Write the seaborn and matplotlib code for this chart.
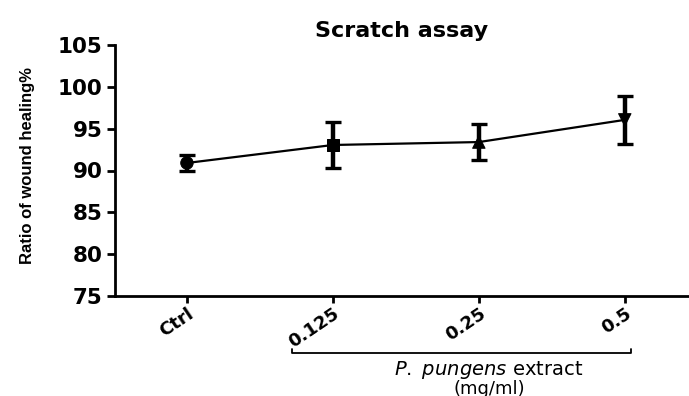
import matplotlib
matplotlib.use("Agg")
import matplotlib.pyplot as plt
import seaborn as sns
import pandas as pd
import numpy as np

categories = ["Ctrl", "0.125", "0.25", "0.5"]
means = [90.9, 93.05, 93.4, 96.05]
errors = [0.9, 2.8, 2.2, 2.9]
yticks = [75, 80, 85, 90, 95, 100, 105]
markers = ["o", "s", "^", "v"]

sns.set_style("ticks")
plt.rcParams['font.family'] = ['DejaVu Sans']
plt.rcParams['text.color'] = 'black'
plt.rcParams['axes.labelcolor'] = 'black'
plt.rcParams['xtick.color'] = 'black'
plt.rcParams['ytick.color'] = 'black'
plt.rcParams['axes.edgecolor'] = 'black'
plt.rcParams['mathtext.fontset'] = 'custom'
plt.rcParams['mathtext.it'] = 'DejaVu Sans:italic'
plt.rcParams['mathtext.rm'] = 'DejaVu Sans'

df = pd.DataFrame({"pos": np.arange(len(categories)), "mean": means, "err": errors, "cat": categories})

fig = plt.figure(figsize=(6.89, 3.96), dpi=100)
ax = fig.add_axes([115/689, 1-296/396, 1-115/689, (296-45)/396])

sns.lineplot(data=df, x="pos", y="mean", color="black", linewidth=1.6, ax=ax, legend=False)
ax.errorbar(df["pos"], df["mean"], yerr=df["err"], fmt="none", ecolor="black",
            elinewidth=3.2, capsize=6, capthick=2.4, zorder=3)
sns.scatterplot(data=df, x="pos", y="mean", style="cat", markers=dict(zip(categories, markers)),
                color="black", s=80, edgecolor="black", ax=ax, legend=False, zorder=4)

ax.set_ylim(75, 105)
ax.set_xlim(-0.493, 3.44)
ax.set_yticks(yticks)
ax.set_yticklabels([str(t) for t in yticks], fontsize=15.5, fontweight="bold")
ax.set_xticks(df["pos"])
ax.set_xticklabels(categories, rotation=34, ha="right", rotation_mode="anchor",
                   fontsize=13, fontweight="bold")
ax.set_xlabel("")
ax.set_ylabel("Ratio of wound healing%", fontsize=12, fontweight="bold",
              family=["Liberation Sans", "DejaVu Sans"])
ax.yaxis.set_label_coords(-0.14, 0.52)
ax.set_title("Scratch assay", fontsize=16, fontweight="bold", pad=6)

for s in ["top", "right"]:
    ax.spines[s].set_visible(False)
for s in ["left", "bottom"]:
    ax.spines[s].set_linewidth(2)
ax.tick_params(axis="y", width=2, length=6, pad=3)
ax.tick_params(axis="x", width=2, length=5, pad=1)

# bracket under the extract concentrations
xt = ax.get_xaxis_transform()
y0 = -0.228
x_a, x_b = 0.72, 3.04
ax.plot([x_a, x_a, x_b, x_b], [y0 + 0.018, y0, y0, y0 + 0.018], transform=xt,
        color="black", lw=1.3, clip_on=False)
ax.text(2.07, -0.295, "$\\it{P.}$ $\\it{pungens}$ extract", transform=xt,
        ha="center", va="center", fontsize=14)
ax.text(2.07, -0.37, "(mg/ml)", transform=xt,
        ha="center", va="center", fontsize=13)

fig.savefig("out.png", dpi=100)
